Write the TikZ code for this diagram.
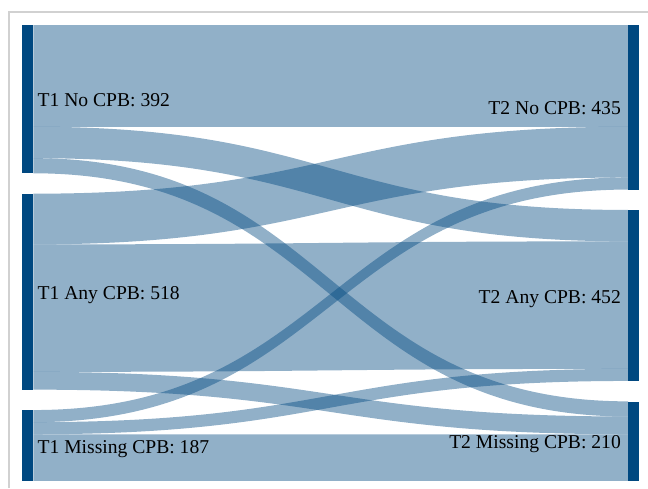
\documentclass[tikz,border=0pt]{standalone}
\usepackage{fontspec}
\setmainfont{Liberation Serif}
\usepackage{xcolor}
\usetikzlibrary{positioning,backgrounds}
\definecolor{nodeblue}{RGB}{0,72,128}
\newcommand{\unitpx}{0.3783}

\begin{document}
\begin{tikzpicture}[x=1pt,y=-1pt,
	bar/.style={fill=nodeblue,draw=none,inner sep=0pt,minimum width=11pt,anchor=north west},
	lableft/.style={anchor=base west,inner sep=0pt,font=\fontsize{19.6}{22}\selectfont},
	labright/.style={lableft,anchor=base east},
	link/.style={fill=nodeblue,fill opacity=0.43,draw=none}]
	\useasboundingbox (0,0) rectangle (648,488);
	\draw[black!18,line width=1.3pt] (9,488) -- (9,12) -- (648,12);

	% T1 column
	\node[bar,minimum height={392*\unitpx pt}] (n1) at (22,25) {};
	\node[bar,minimum height={518*\unitpx pt},below=20pt of n1] (a1) {};
	\node[bar,minimum height={187*\unitpx pt},below=20pt of a1] (m1) {};
	% T2 column
	\node[bar,minimum height={435*\unitpx pt}] (n2) at (628,25) {};
	\node[bar,minimum height={452*\unitpx pt},below=20pt of n2] (a2) {};
	\node[bar,minimum height={210*\unitpx pt},below=20pt of a2] (m2) {};

	\begin{scope}[on background layer]
	\foreach \src/\dst/\sa/\da/\val in {n1/n2/0/0/269, n1/a2/269/0/83, n1/m2/352/0/40,
		a1/n2/0/269/134, a1/a2/134/83/337, a1/m2/471/40/47,
		m1/n2/0/403/32, m1/a2/32/420/32, m1/m2/64/87/123}{
		\fill[link] ([yshift=-\sa*\unitpx pt]\src.north east)
			.. controls +(297.5,0) and +(-297.5,0) .. ([yshift=-\da*\unitpx pt]\dst.north west)
			-- ([yshift=-(\da+\val)*\unitpx pt]\dst.north west)
			.. controls +(-297.5,0) and +(297.5,0) .. ([yshift=-(\sa+\val)*\unitpx pt]\src.north east)
			-- cycle;
	}
	\end{scope}

	\node[lableft] (n1lab) at ([xshift=4pt,yshift=-7.5pt]n1.east) {T1 No CPB: 392};
	\node[lableft] (a1lab) at ([xshift=4pt,yshift=-7.5pt]a1.east) {T1 Any CPB: 518};
	\node[lableft] (m1lab) at ([xshift=4pt,yshift=-7.5pt]m1.east) {T1 Missing CPB: 187};
	\node[labright] (n2lab) at ([xshift=-7pt,yshift=-7.5pt]n2.west) {T2 No CPB: 435};
	\node[labright] (a2lab) at ([xshift=-7pt,yshift=-7.5pt]a2.west) {T2 Any CPB: 452};
	\node[labright] (m2lab) at ([xshift=-7pt,yshift=-7.5pt]m2.west) {T2 Missing CPB: 210};
\end{tikzpicture}
\end{document}
